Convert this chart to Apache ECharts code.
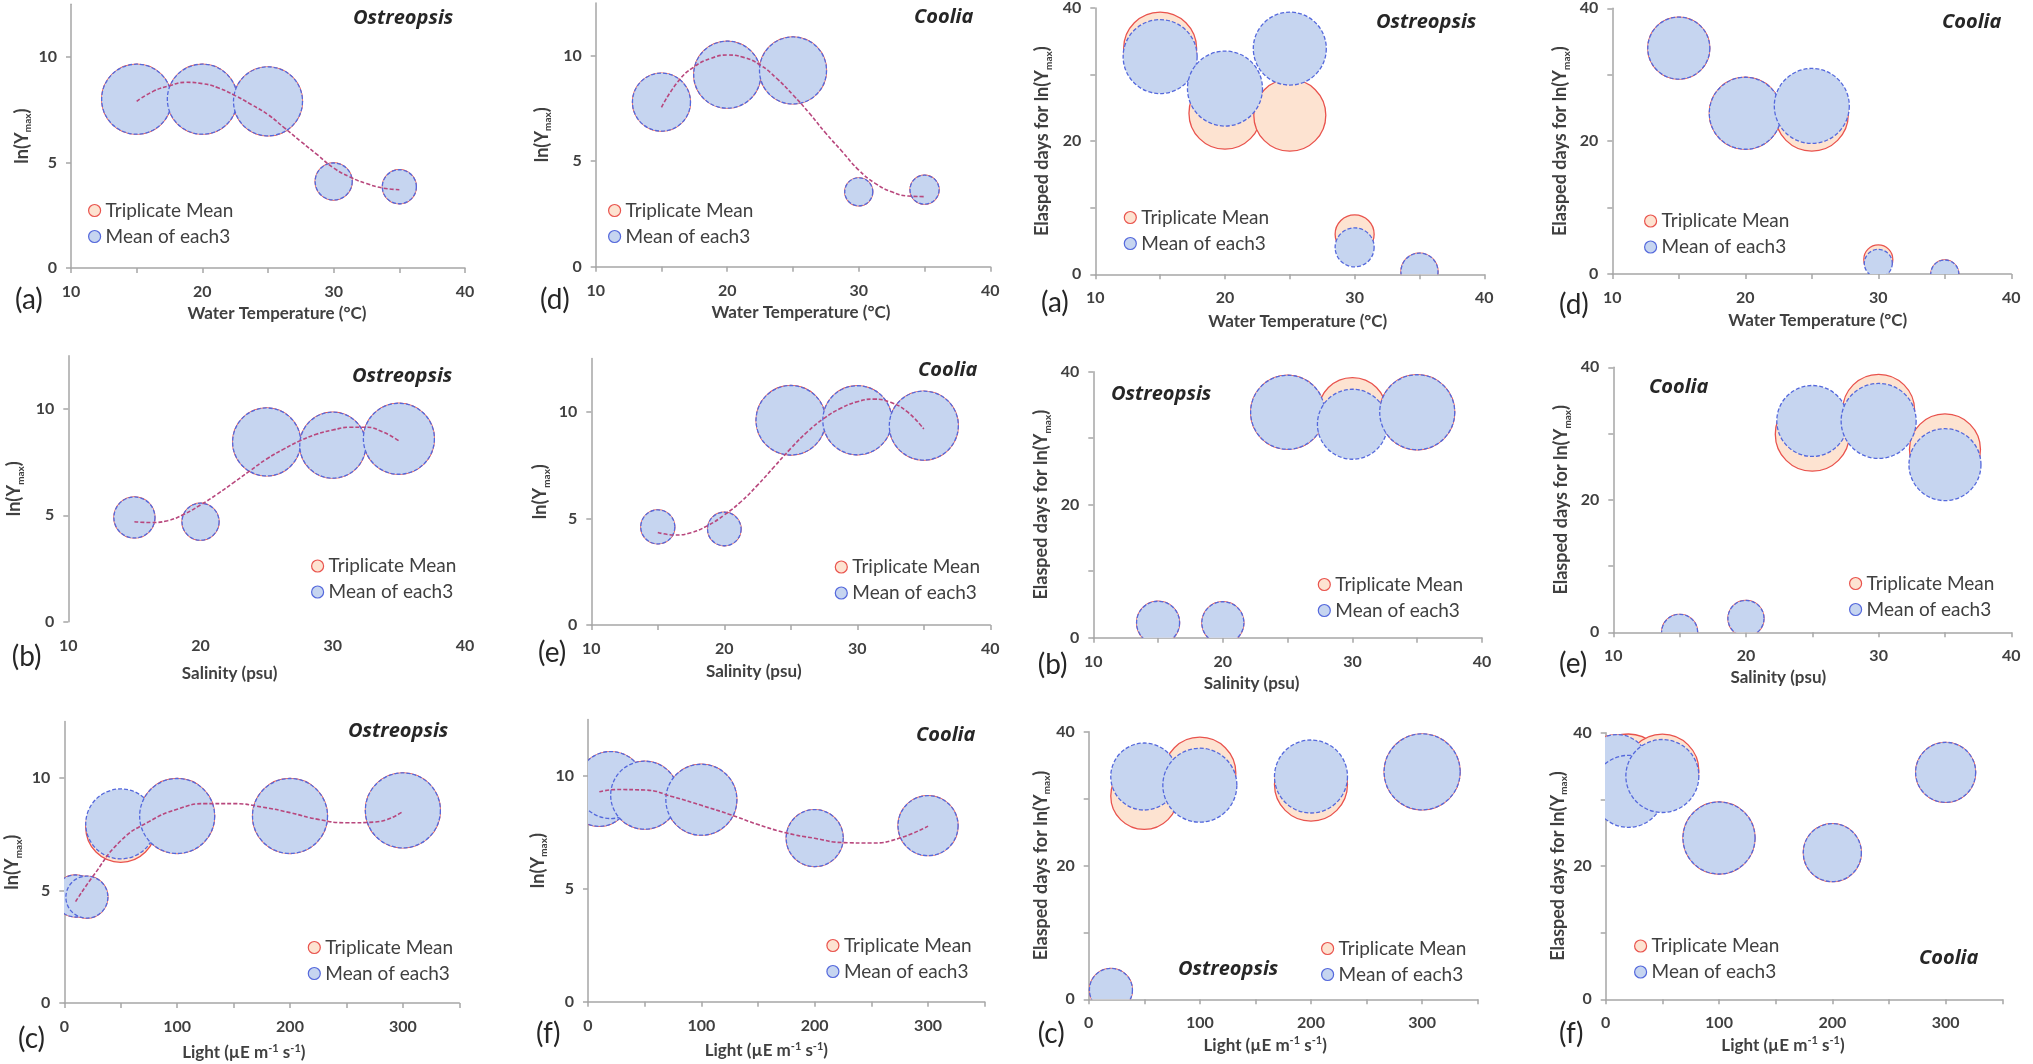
<!DOCTYPE html>
<html>
<head>
<meta charset="utf-8">
<script src="https://cdn.jsdelivr.net/npm/echarts@6/dist/echarts.min.js"></script>
<style>
html, body { margin: 0; padding: 0; background: #fff; }
#main { width: 2033px; height: 1064px; }
</style>
</head>
<body>
<div id="main"></div>
<script>
// x levels used in the experiments
var tempX = [15, 20, 25, 30, 35];
var salX = [15, 20, 25, 30, 35];
var lightX = [10, 20, 50, 100, 200, 300];
var lightXcD = [20, 50, 100, 200, 300];
var trendX = [15, 16.25, 17.5, 18.75, 20, 21.25, 22.5, 23.75, 25, 26.25, 27.5, 28.75, 30, 31.25, 32.5, 33.75, 35];
var trendLightX = [10, 25, 50, 75, 100, 125, 150, 175, 200, 225, 250, 275, 300];

// tick marks / tick labels
var tempTicks = [10, 15, 20, 25, 30, 35, 40];
var tempLabels = [10, 20, 30, 40];
var lightTicks = [0, 50, 100, 150, 200, 250, 300, 350];
var lightLabels = [0, 100, 200, 300];
var lnTicks = [0, 5, 10];
var dayTicks = [0, 10, 20, 30, 40];
var dayLabels = [0, 20, 40];

// (a) Ostreopsis - temperature - ln(Ymax)
var aY = [8.0, 8.0, 7.9, 4.1, 3.85];
var aSize = [7.0, 7.0, 6.9, 3.7, 3.4];
var aTrend = [7.9, 8.37, 8.64, 8.8, 8.74, 8.53, 8.17, 7.74, 7.27, 6.64, 6.0, 5.37, 4.74, 4.31, 4.0, 3.79, 3.71];
// (d) Coolia - temperature - ln(Ymax)
var dY = [7.8, 9.1, 9.3, 3.55, 3.65];
var dSize = [5.8, 6.7, 6.7, 2.8, 2.9];
var dTrend = [7.55, 8.77, 9.48, 9.87, 10.03, 9.92, 9.56, 8.93, 8.14, 7.27, 6.32, 5.45, 4.58, 3.95, 3.55, 3.35, 3.32];
// (a) Ostreopsis - temperature - elapsed days
var aDaysTri = [33.9, 24.2, 23.9, 6.0, 0.4];
var aDaysTriSize = [7.3, 7.2, 7.2, 3.9, 3.7];
var aDaysMean = [32.7, 27.9, 33.9, 4.05, 0.4];
var aDaysMeanSize = [7.4, 7.5, 7.3, 3.9, 3.7];
// (d) Coolia - temperature - elapsed days
var dDaysTri = [34.0, 24.2, 24.0, 2.2, 0];
var dDaysTriSize = [6.2, 7.2, 7.3, 2.9, 2.8];
var dDaysMean = [34.0, 24.2, 25.3, 1.6, 0];
var dDaysMeanSize = [6.2, 7.2, 7.5, 2.8, 2.8];

// (b) Ostreopsis - salinity - ln(Ymax)
var bY = [4.9, 4.7, 8.45, 8.3, 8.6];
var bSize = [4.1, 3.7, 6.8, 6.6, 7.1];
var bTrend = [4.7, 4.66, 4.75, 5.05, 5.49, 5.99, 6.54, 7.1, 7.65, 8.1, 8.5, 8.81, 9.01, 9.14, 9.14, 8.93, 8.5];
// (e) Coolia - salinity - ln(Ymax)
var eY = [4.6, 4.5, 9.6, 9.6, 9.35];
var eSize = [3.4, 3.35, 6.95, 6.9, 6.9];
var eTrend = [4.34, 4.22, 4.33, 4.66, 5.16, 5.78, 6.56, 7.42, 8.28, 9.06, 9.69, 10.16, 10.47, 10.59, 10.44, 10.0, 9.19];
// (b) Ostreopsis - salinity - elapsed days
var bDaysTri = [2.25, 2.25, 33.9, 34.0, 33.9];
var bDaysTriSize = [4.3, 4.2, 7.4, 6.8, 7.5];
var bDaysMean = [2.25, 2.25, 33.9, 32.1, 33.9];
var bDaysMeanSize = [4.3, 4.2, 7.4, 7.0, 7.5];
// (e) Coolia - salinity - elapsed days
var eDaysTri = [0, 2.1, 29.9, 33.5, 27.6];
var eDaysTriSize = [3.6, 3.6, 7.4, 7.2, 7.1];
var eDaysMean = [0, 2.1, 31.9, 31.9, 25.3];
var eDaysMeanSize = [3.6, 3.6, 7.1, 7.5, 7.2];

// (c) Ostreopsis - light - ln(Ymax)
var cTri = [4.75, 4.7, 7.8, 8.3, 8.3, 8.55];
var cMean = [4.75, 4.7, 7.95, 8.3, 8.3, 8.55];
var cSize = [4.2, 4.2, 7.0, 7.5, 7.5, 7.5];
var cTrend = [4.5, 5.6, 7.2, 8.05, 8.6, 8.85, 8.85, 8.7, 8.45, 8.15, 8.0, 8.03, 8.5];
// (f) Coolia - light - ln(Ymax)
var fY = [9.1, 9.6, 9.15, 8.95, 7.25, 7.8];
var fSize = [6.0, 6.7, 6.8, 7.1, 5.7, 6.0];
var fTrend = [9.3, 9.4, 9.38, 9.08, 8.7, 8.3, 7.85, 7.48, 7.24, 7.05, 7.03, 7.25, 7.78];
// (c) Ostreopsis - light - elapsed days
var cDaysTri = [1.4, 30.4, 33.8, 32.1, 34.0];
var cDaysTriSize = [4.3, 6.7, 7.2, 7.3, 7.6];
var cDaysMean = [1.4, 33.3, 32.0, 33.3, 34.0];
var cDaysMeanSize = [4.3, 6.7, 7.4, 7.3, 7.6];
// (f) Coolia - light - elapsed days
var fDaysTri = [35.0, 34.4, 34.3, 24.2, 22.0, 34.05];
var fDaysMean = [35.0, 31.2, 33.5, 24.2, 22.0, 34.05];
var fDaysSize = [6.3, 7.2, 7.3, 7.2, 5.8, 6.0];

var FONT = 'Lato, "Liberation Sans", sans-serif';
var TITLE_FONT = '"Open Sans", Lato, sans-serif';
var INK = '#404040';
var DARK = '#262626';
var AXIS = '#a6a6a6';
var TRI_FILL = '#fde3d1', TRI_LINE = '#e9534d';
var MEAN_FILL = '#c6d5f0', MEAN_LINE = '#5468dc';
var TREND = '#b8477d';
var BUBBLE = 10; // px per bubble-size unit

var kinds = {
    temp: {min: 10, max: 40, ticks: tempTicks, labels: tempLabels, name: 'Water Temperature (°C)'},
    sal: {min: 10, max: 40, ticks: tempTicks, labels: tempLabels, name: 'Salinity (psu)'},
    light: {min: 0, max: 350, ticks: lightTicks, labels: lightLabels, name: 'Light (µE m{p|-1} s{p|-1})'},
    ln: {min: 0, max: 12.5, ticks: lnTicks, labels: lnTicks, name: '{t|ln(Y}{s|max}{t|)}'},
    days: {min: 0, max: 40, ticks: dayTicks, labels: dayLabels, name: '{t|Elasped days for ln(Y}{s|max}{t|)}'}
};

// box = [left, top, width, height] of the plot area
var panels = [
    {tag: '(a)', genus: 'Ostreopsis', x: 'temp', y: 'ln', xs: tempX, tri: aY, mean: aY, triSize: aSize, meanSize: aSize, tx: trendX, ty: aTrend,
     box: [71, 4.25, 394, 263.75], xGap: 36, xShift: 9, yGap: 38, titleAt: [353, 18], tagAt: [15, 300], legendAt: [88, 201]},
    {tag: '(d)', genus: 'Coolia', x: 'temp', y: 'ln', xs: tempX, tri: dY, mean: dY, triSize: dSize, meanSize: dSize, tx: trendX, ty: dTrend,
     box: [595.7, 2.95, 394.6, 263.75], xGap: 36, xShift: 8, yGap: 43, titleAt: [914, 17], tagAt: [540, 300], legendAt: [608, 201]},
    {tag: '(a)', genus: 'Ostreopsis', x: 'temp', y: 'days', xs: tempX, tri: aDaysTri, mean: aDaysMean, triSize: aDaysTriSize, meanSize: aDaysMeanSize,
     box: [1095.3, 7.3, 389, 267], xGap: 37, xShift: 8, yGap: 42, titleAt: [1376, 22], tagAt: [1041, 303], legendAt: [1123.7, 208]},
    {tag: '(d)', genus: 'Coolia', x: 'temp', y: 'days', xs: tempX, tri: dDaysTri, mean: dDaysMean, triSize: dDaysTriSize, meanSize: dDaysMeanSize,
     box: [1612.3, 8.3, 399, 265.7], xGap: 37, xShift: 6, yGap: 41, titleAt: [1942, 22], tagAt: [1559, 305], legendAt: [1644, 211.5]},

    {tag: '(b)', genus: 'Ostreopsis', x: 'sal', y: 'ln', xs: salX, tri: bY, mean: bY, triSize: bSize, meanSize: bSize, tx: trendX, ty: bTrend, noXLine: true,
     box: [68.3, 355.8, 396.7, 265.9], xGap: 42, xShift: -37, yGap: 43, titleAt: [352, 376.7], tagAt: [11.7, 656.5], legendAt: [311, 556.5]},
    {tag: '(e)', genus: 'Coolia', x: 'sal', y: 'ln', xs: salX, tri: eY, mean: eY, triSize: eSize, meanSize: eSize, tx: trendX, ty: eTrend,
     box: [591.3, 358.4, 399, 266.6], xGap: 37, xShift: -37, yGap: 40, titleAt: [918, 370], tagAt: [538, 653], legendAt: [834.7, 557.5]},
    {tag: '(b)', genus: 'Ostreopsis', x: 'sal', y: 'days', xs: salX, tri: bDaysTri, mean: bDaysMean, triSize: bDaysTriSize, meanSize: bDaysMeanSize,
     box: [1093.3, 371.7, 388.7, 266], xGap: 36, xShift: -36, yGap: 41, titleAt: [1111, 394.3], tagAt: [1037.7, 665], legendAt: [1317.7, 575]},
    {tag: '(e)', genus: 'Coolia', x: 'sal', y: 'days', xs: salX, tri: eDaysTri, mean: eDaysMean, triSize: eDaysTriSize, meanSize: eDaysMeanSize,
     box: [1613.3, 367.3, 398, 265], xGap: 35, xShift: -34, yGap: 41, titleAt: [1649, 387.7], tagAt: [1559, 663.5], legendAt: [1849, 574]},

    {tag: '(c)', genus: 'Ostreopsis', x: 'light', y: 'ln', xs: lightX, tri: cTri, mean: cMean, triSize: cSize, meanSize: cSize, tx: trendLightX, ty: cTrend,
     box: [64.3, 721.4, 395, 282.9], xGap: 40, xShift: -18, yGap: 41, titleAt: [348, 731.7], tagAt: [18, 1039], legendAt: [307.7, 938]},
    {tag: '(f)', genus: 'Coolia', x: 'light', y: 'ln', xs: lightX, tri: fY, mean: fY, triSize: fSize, meanSize: fSize, tx: trendLightX, ty: fTrend,
     box: [588, 719.6, 396.7, 282.1], xGap: 39, xShift: -20, yGap: 39, titleAt: [916, 735], tagAt: [536, 1033.5], legendAt: [826.3, 936]},
    {tag: '(c)', genus: 'Ostreopsis', x: 'light', y: 'days', xs: lightXcD, tri: cDaysTri, mean: cDaysMean, triSize: cDaysTriSize, meanSize: cDaysMeanSize,
     box: [1088.7, 731.7, 389, 267.6], xGap: 36, xShift: -18, yGap: 36, titleAt: [1178, 969.3], tagAt: [1037.7, 1034], legendAt: [1321, 939]},
    {tag: '(f)', genus: 'Coolia', x: 'light', y: 'days', xs: lightX, tri: fDaysTri, mean: fDaysMean, triSize: fDaysSize, meanSize: fDaysSize,
     box: [1605.7, 732.7, 396.6, 266.6], xGap: 36, xShift: -21, yGap: 35, titleAt: [1919, 958.3], tagAt: [1559, 1034], legendAt: [1634, 936.5]}
];

function zip3(xs, ys, ss) {
    return xs.map(function (x, i) { return [x, ys[i], ss[i]]; });
}
function zip2(xs, ys) {
    return xs.map(function (x, i) { return [x, ys[i]]; });
}

// bubbles are drawn as a custom series so they get clipped at the plot area like in Excel
function bubbles(name, i, data, fill, stroke, dashed, z) {
    return {
        type: 'custom', name: name, xAxisIndex: i, yAxisIndex: i,
        data: data, clip: true, silent: true, z: z,
        encode: {x: 0, y: 1},
        itemStyle: {color: fill, borderColor: stroke, borderWidth: 1.3},
        renderItem: function (params, api) {
            var c = api.coord([api.value(0), api.value(1)]);
            var r = api.value(2) * BUBBLE / 2;
            return {
                type: 'circle',
                shape: {cx: c[0], cy: c[1], r: r},
                style: {fill: fill, stroke: stroke, lineWidth: 1.3, lineDash: dashed ? [4, 2] : null}
            };
        }
    };
}

var labelStyle = {fontFamily: FONT, fontSize: 16, fontWeight: 'bold', color: INK};
var subRich = {
    t: {fontFamily: FONT, fontSize: 18, fontWeight: 'bold', color: INK, lineHeight: 22},
    s: {fontFamily: FONT, fontSize: 10, fontWeight: 'bold', color: INK, lineHeight: 10, verticalAlign: 'bottom'},
    p: {fontFamily: FONT, fontSize: 11, fontWeight: 'bold', color: INK, lineHeight: 12, verticalAlign: 'top'}
};

var option = {
    animation: false,
    backgroundColor: '#fff',
    grid: [], xAxis: [], yAxis: [], series: [], legend: [], graphic: []
};

panels.forEach(function (p, i) {
    var kx = kinds[p.x], ky = kinds[p.y];
    option.grid.push({left: p.box[0], top: p.box[1], width: p.box[2], height: p.box[3]});

    var pad = p.xShift >= 0 ? [0, 0, 0, 2 * p.xShift] : [0, -2 * p.xShift, 0, 0];
    option.xAxis.push({
        gridIndex: i, type: 'value', min: kx.min, max: kx.max,
        name: kx.name, nameLocation: 'middle', nameGap: p.xGap,
        nameTextStyle: {fontFamily: FONT, fontSize: 17, fontWeight: 'bold', color: INK, lineHeight: 20, padding: pad, rich: subRich},
        axisLine: {show: !p.noXLine, onZero: false, lineStyle: {color: AXIS, width: 1.5}},
        axisTick: {show: !p.noXLine, length: 5, customValues: kx.ticks, lineStyle: {color: AXIS, width: 1.5}},
        axisLabel: Object.assign({customValues: kx.labels, margin: 16}, labelStyle),
        splitLine: {show: false}
    });
    option.yAxis.push({
        gridIndex: i, type: 'value', min: ky.min, max: ky.max,
        name: ky.name, nameLocation: 'middle', nameGap: p.yGap,
        nameTextStyle: {fontFamily: FONT, fontSize: 18, fontWeight: 'bold', color: INK, rich: subRich},
        axisLine: {show: true, onZero: false, lineStyle: {color: AXIS, width: 1.5}},
        axisTick: {show: true, length: 5, customValues: ky.ticks, lineStyle: {color: AXIS, width: 1.5}},
        axisLabel: Object.assign({customValues: ky.labels, margin: 14}, labelStyle),
        splitLine: {show: false}
    });

    option.series.push(bubbles('Triplicate Mean', i, zip3(p.xs, p.tri, p.triSize), TRI_FILL, TRI_LINE, false, 2));
    option.series.push(bubbles('Mean of each3', i, zip3(p.xs, p.mean, p.meanSize), MEAN_FILL, MEAN_LINE, true, 3));
    if (p.ty) {
        option.series.push({
            type: 'line', name: 'trend', xAxisIndex: i, yAxisIndex: i,
            data: zip2(p.tx, p.ty), smooth: true, symbol: 'none', silent: true, z: 4,
            lineStyle: {color: TREND, width: 1.6, type: [4, 2]}
        });
    }

    option.legend.push({
        data: [
            {name: 'Triplicate Mean', itemStyle: {color: TRI_FILL, borderColor: TRI_LINE, borderWidth: 1.2}},
            {name: 'Mean of each3', itemStyle: {color: MEAN_FILL, borderColor: MEAN_LINE, borderWidth: 1.2}}
        ],
        orient: 'vertical', left: p.legendAt[0], top: p.legendAt[1],
        padding: 0, itemGap: 7, itemWidth: 12, itemHeight: 12, icon: 'circle',
        selectedMode: false,
        textStyle: {fontFamily: FONT, fontSize: 19, color: INK}
    });

    option.graphic.push({
        type: 'text', x: p.titleAt[0], y: p.titleAt[1], silent: true,
        style: {text: p.genus, fontFamily: TITLE_FONT, fontSize: 20, fontWeight: 'bold', fontStyle: 'italic', fill: DARK, align: 'left', verticalAlign: 'middle'}
    });
    option.graphic.push({
        type: 'text', x: p.tagAt[0], y: p.tagAt[1], silent: true,
        style: {text: p.tag, fontFamily: FONT, fontSize: 28, fill: DARK, align: 'left', verticalAlign: 'middle'}
    });
});

var myChart = echarts.init(document.getElementById('main'));
myChart.setOption(option);
</script>
</body>
</html>
